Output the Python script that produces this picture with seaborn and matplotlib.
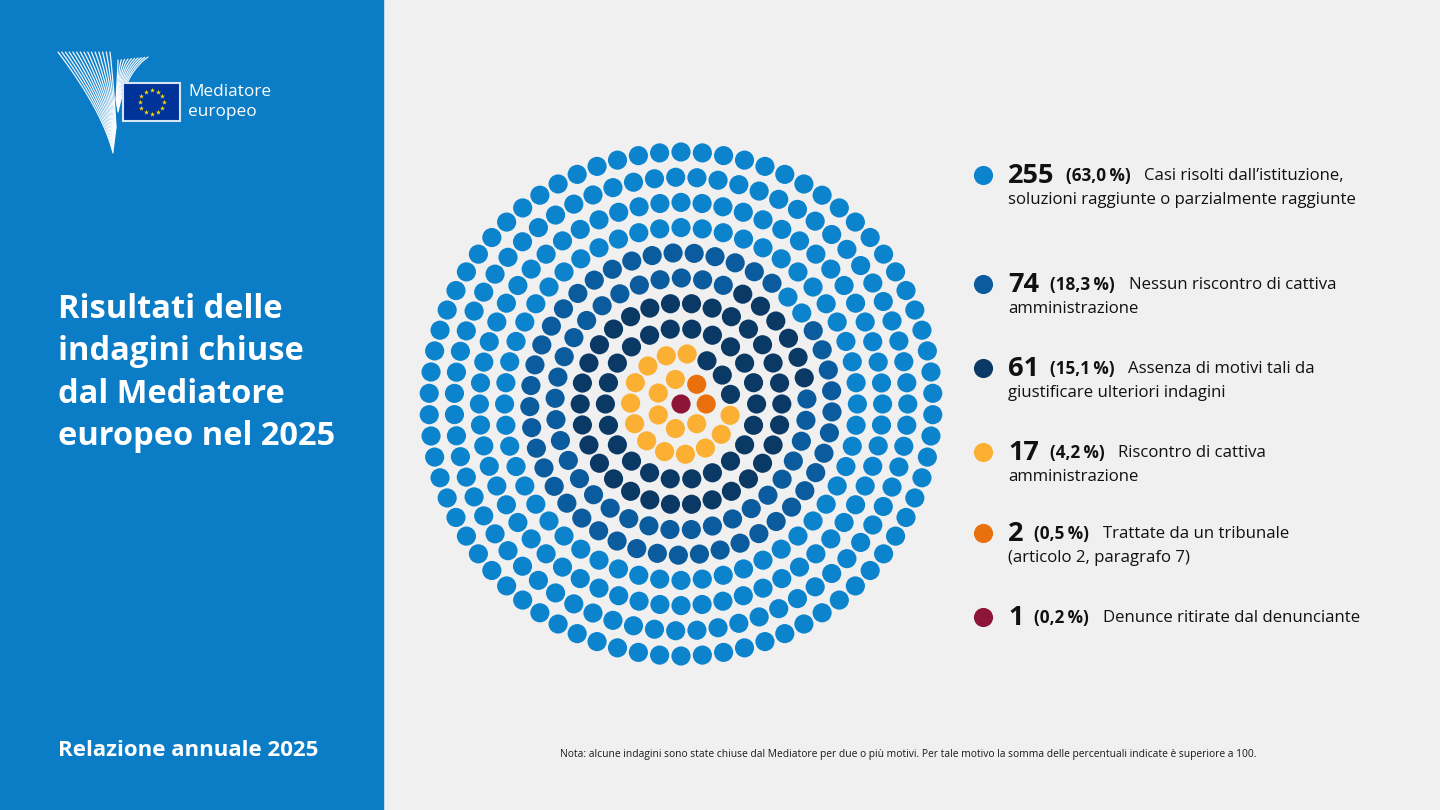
import numpy as np
import pandas as pd
import matplotlib
matplotlib.use("Agg")
import matplotlib.pyplot as plt
from matplotlib.patches import Rectangle
import seaborn as sns

# Data
counts = [255, 74, 61, 17, 2, 1]
shares = ["(63,0\u2009%)", "(18,3\u2009%)", "(15,1\u2009%)", "(4,2\u2009%)", "(0,5\u2009%)", "(0,2\u2009%)"]
labels = [
    "Casi risolti dall\u2019istituzione,\nsoluzioni raggiunte o parzialmente raggiunte",
    "Nessun riscontro di cattiva\namministrazione",
    "Assenza di motivi tali da\ngiustificare ulteriori indagini",
    "Riscontro di cattiva\namministrazione",
    "Trattate da un tribunale\n(articolo 2, paragrafo 7)",
    "Denunce ritirate dal denunciante",
]
colors = ["#0B83CD", "#0B5C9E", "#0A3966", "#FBB034", "#E9700D", "#8C1538"]

title = "Risultati delle\nindagini chiuse\ndal Mediatore\neuropeo nel 2025"
footer = "Relazione annuale 2025"
note = ("Nota: alcune indagini sono state chiuse dal Mediatore per due o pi\u00f9 motivi. "
        "Per tale motivo la somma delle percentuali indicate \u00e8 superiore a 100.")

sns.set_theme(style="white")
plt.rcParams["font.family"] = ["Open Sans", "DejaVu Sans"]

# Concentric ring layout: centre dot, then rings filled from the inside out
cx, cy = 681, 404
ring_gap = 25.2
dot_step = 21.1
ring_start = {1: 0, 2: 83, 5: 12, 6: 53, 10: 90}

total = sum(counts)
px, py = [cx], [cy]
k = 1
while len(px) < total:
    r = k * ring_gap
    n_full = int(2 * np.pi * r / dot_step)
    n = min(n_full, total - len(px))
    th = np.deg2rad(ring_start.get(k, 0)) + np.arange(n) * 2 * np.pi / n
    px.extend(cx + r * np.cos(th))
    py.extend(cy - r * np.sin(th))
    k += 1

order = list(range(len(counts)))[::-1]  # centre holds the smallest group
cat = np.repeat([labels[i] for i in order], [counts[i] for i in order])
dots = pd.DataFrame({"x": px, "y": py, "cat": cat})

fig = plt.figure(figsize=(14.4, 8.1), dpi=100)
fig.patch.set_facecolor("#F0F0F0")
ax = fig.add_axes([0, 0, 1, 1])
ax.set_xlim(0, 1440)
ax.set_ylim(810, 0)
ax.axis("off")

# left panel
ax.add_patch(Rectangle((0, 0), 383, 810, color="#0B7CC6", zorder=0))

sns.scatterplot(data=dots, x="x", y="y", hue="cat",
                palette=dict(zip(labels, colors)), s=190, linewidth=0,
                legend=False, ax=ax, zorder=3)


def bezier(p0, p1, p2, t):
    bx = (1 - t) ** 2 * p0[0] + 2 * (1 - t) * t * p1[0] + t ** 2 * p2[0]
    by = (1 - t) ** 2 * p0[1] + 2 * (1 - t) * t * p1[1] + t ** 2 * p2[1]
    return bx, by


# logo: striped wings, flag and name
t = np.linspace(0, 1, 50)
for f in np.linspace(0, 1, 15):
    bx, by = bezier((58 + 52 * f, 52), (102 + 12 * f, 110 - 22 * f),
                    (113 + 3 * f, 153 - 25 * f), t)
    ax.plot(bx, by, color="white", lw=0.9, alpha=0.95, zorder=2)
for f in np.linspace(0, 1, 10):
    bx, by = bezier((118 + 30 * f, 60 - 3 * f), (118 + 8 * f, 66 + 6 * f),
                    (116 + 2 * f, 100 + 12 * f), t)
    ax.plot(bx, by, color="white", lw=0.9, alpha=0.95, zorder=2)
ax.add_patch(Rectangle((123, 83), 57, 38, facecolor="#003399",
                       edgecolor="#D6E6F5", lw=1.5, zorder=4))
ang = np.arange(12) * np.pi / 6
ax.scatter(151.5 + 12 * np.cos(ang), 102 + 12 * np.sin(ang), marker="*",
           s=14, color="#FFDD00", linewidths=0, zorder=5)
ax.text(188, 92, "Mediatore", color="white", fontsize=12.4, va="center", ha="left")
ax.text(188, 112, "europeo", color="white", fontsize=12.4, va="center", ha="left")

# title and footer
ax.text(58, 373, title, color="white", fontsize=23.5, fontweight="bold",
        va="center", ha="left", linespacing=1.37)
ax.text(58, 751, footer, color="white", fontsize=16, fontweight="bold",
        va="center", ha="left")
ax.text(560, 755, note, color="#1A1A1A", fontsize=7.4, va="center", ha="left")

# legend
rows_y = [175, 284, 368, 452, 533, 617]
fig.canvas.draw()
rend = fig.canvas.get_renderer()
inv = ax.transData.inverted()
for n, sh, lab, col, y in zip(counts, shares, labels, colors, rows_y):
    ax.scatter([983], [y], s=190, color=col, linewidths=0, zorder=3)
    first, *rest = lab.split("\n")
    t1 = ax.text(1008, y + 1, str(n), fontsize=19.5, fontweight="bold",
                 color="#111111", va="center", ha="left")
    x_end = inv.transform(t1.get_window_extent(rend))[1][0]
    t2 = ax.text(x_end + 11, y + 1, sh, fontsize=12.3, fontweight="bold",
                 color="#111111", va="center", ha="left")
    x_end = inv.transform(t2.get_window_extent(rend))[1][0]
    ax.text(x_end + 14, y + 1, first, fontsize=12.1, color="#111111",
            va="center", ha="left")
    for j, line in enumerate(rest):
        ax.text(1008, y + 25 * (j + 1), line, fontsize=12.1, color="#111111",
                va="center", ha="left")

fig.savefig("out.png", dpi=100, facecolor=fig.get_facecolor())
